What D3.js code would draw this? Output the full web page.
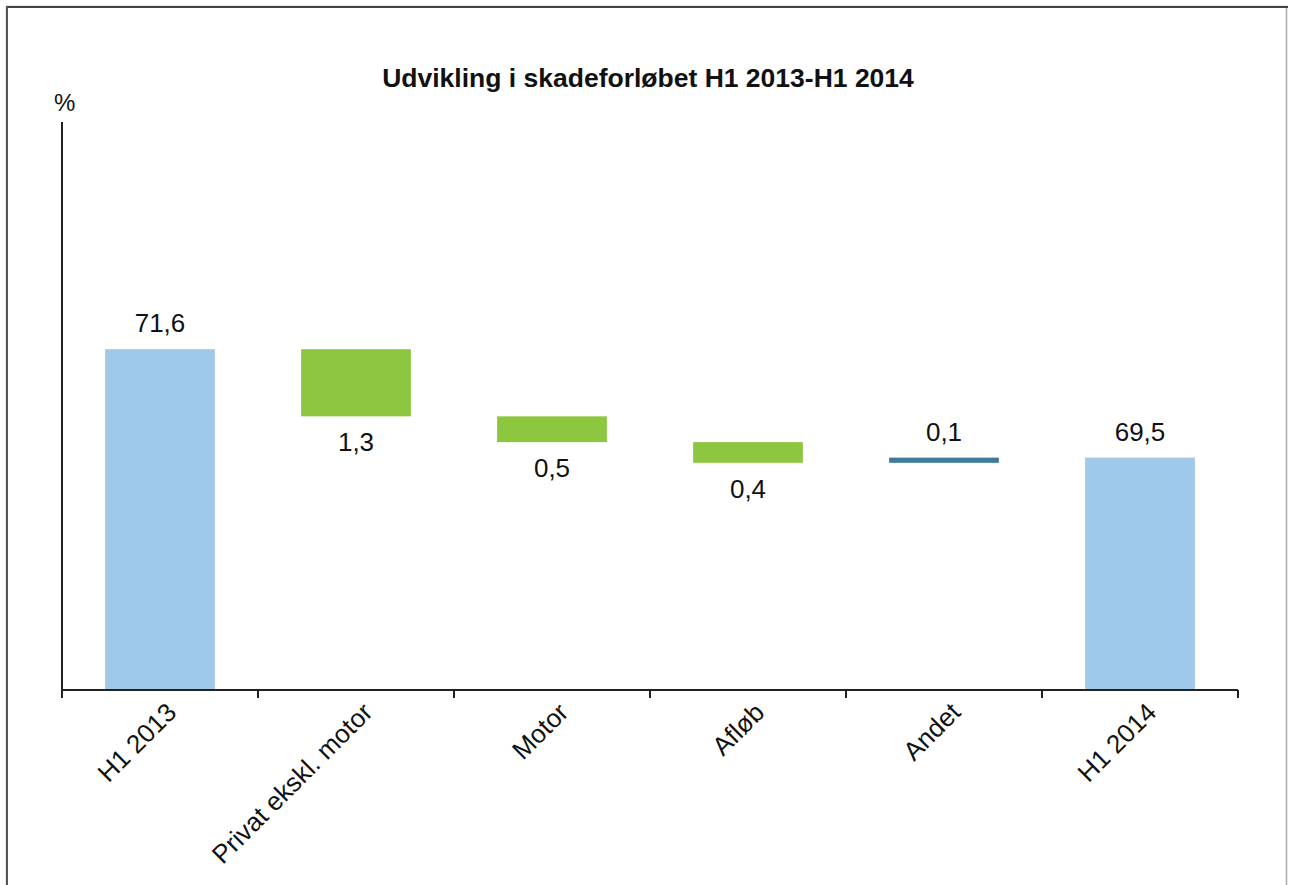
<!DOCTYPE html>
<html>
<head>
<meta charset="utf-8">
<script src="https://cdn.jsdelivr.net/npm/d3@7"></script>
<style>
body{margin:0;background:#fff;}
text{font-family:"Liberation Sans", Arial, sans-serif;}
</style>
</head>
<body>
<svg id="chart" width="1289" height="885"></svg>
<script>
// data
let categories=["H1 2013","Privat ekskl. motor","Motor","Afløb","Andet","H1 2014"];
let changes=[71.6,-1.3,-0.5,-0.4,0.1,69.5]; // first and last are totals
let labels=["71,6","1,3","0,5","0,4","0,1","69,5"];
let kinds=["total","down","down","down","up","total"];

let svg=d3.select("#chart");

// frame
svg.append("rect").attr("x",6.5).attr("y",6.5).attr("width",1280).attr("height",900)
    .attr("fill","none").attr("stroke","#aaa").attr("stroke-width",1.5);
svg.append("line").attr("x1",6).attr("x2",1288).attr("y1",7).attr("y2",7).attr("stroke","#444").attr("stroke-width",2);
svg.append("line").attr("x1",7).attr("x2",7).attr("y1",6).attr("y2",885).attr("stroke","#555").attr("stroke-width",2);

let pLeft=62, pRight=1238, pTop=122, pBottom=690;

let x=d3.scaleBand().domain(categories).range([pLeft,pRight]).paddingInner(0.44).paddingOuter(0.22);
let y=d3.scaleLinear().domain([65,76]).range([pBottom,pTop]);

// waterfall: start/end of every bar
let run=0;
let bars=categories.map(function(c,i){
    let k=kinds[i], y0, y1;
    if(k=="total"){ y0=65; y1=changes[i]; run=changes[i]; }
    else { y0=run; y1=run+changes[i]; run=y1; }
    return {cat:c,lo:Math.min(y0,y1),hi:Math.max(y0,y1),kind:k,label:labels[i]};
});
let colors={total:"#9fc9ea",down:"#8dc63f",up:"#3e7b9b"};

svg.selectAll("rect.bar").data(bars).enter().append("rect")
    .attr("class","bar")
    .attr("x",d=>x(d.cat))
    .attr("width",x.bandwidth())
    .attr("y",d=>y(d.hi))
    .attr("height",d=>y(d.lo)-y(d.hi))
    .attr("fill",d=>colors[d.kind]);

svg.selectAll("text.val").data(bars).enter().append("text")
    .attr("class","val")
    .attr("x",d=>x(d.cat)+x.bandwidth()/2)
    .attr("y",d=>d.kind=="down"? y(d.lo)+35 : y(d.hi)-17)
    .attr("text-anchor","middle")
    .attr("font-size",26)
    .attr("fill","#111")
    .text(d=>d.label);

// axes
svg.append("line").attr("x1",pLeft).attr("x2",pLeft).attr("y1",pTop).attr("y2",pBottom)
    .attr("stroke","#222").attr("stroke-width",2);
svg.append("line").attr("x1",pLeft-1).attr("x2",pRight).attr("y1",pBottom).attr("y2",pBottom)
    .attr("stroke","#222").attr("stroke-width",2);
let step=(pRight-pLeft)/categories.length;
d3.range(categories.length+1).forEach(function(i){
    svg.append("line").attr("x1",pLeft+i*step).attr("x2",pLeft+i*step)
        .attr("y1",pBottom).attr("y2",pBottom+8).attr("stroke","#222").attr("stroke-width",2);
});

svg.selectAll("text.cat").data(categories).enter().append("text")
    .attr("class","cat")
    .attr("transform",d=>"translate("+(x(d)+x.bandwidth()/2+18)+","+(pBottom+24)+") rotate(-45)")
    .attr("text-anchor","end")
    .attr("font-size",26)
    .attr("fill","#111")
    .text(d=>d);

svg.append("text").attr("x",54).attr("y",111).attr("font-size",24).attr("fill","#111").text("%");

svg.append("text").attr("x",648).attr("y",87).attr("text-anchor","middle")
    .attr("font-size",26.5).attr("font-weight","bold").attr("fill","#111")
    .text("Udvikling i skadeforløbet H1 2013-H1 2014");
</script>
</body>
</html>
